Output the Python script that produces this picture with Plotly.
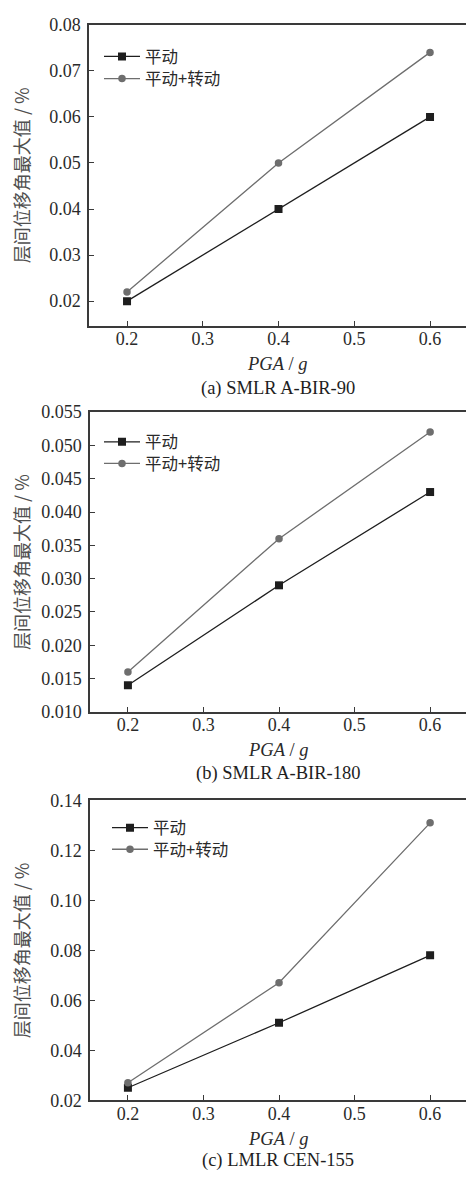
import plotly.graph_objects as go

W, H = 466, 1181

pga = [0.2, 0.4, 0.6]
names = ["平动", "平动+转动"]
a_trans = [0.020, 0.040, 0.060]
a_rot = [0.022, 0.050, 0.074]
b_trans = [0.014, 0.029, 0.043]
b_rot = [0.016, 0.036, 0.052]
c_trans = [0.025, 0.051, 0.078]
c_rot = [0.027, 0.067, 0.131]
captions = ["(a) SMLR A-BIR-90", "(b) SMLR A-BIR-180", "(c) LMLR CEN-155"]
y_ranges = [[0.0147, 0.08], [0.010, 0.055], [0.020, 0.140]]
y_ticks = [
    [0.02, 0.03, 0.04, 0.05, 0.06, 0.07, 0.08],
    [0.010, 0.015, 0.020, 0.025, 0.030, 0.035, 0.040, 0.045, 0.050, 0.055],
    [0.02, 0.04, 0.06, 0.08, 0.10, 0.12, 0.14],
]
y_fmt = [".2f", ".3f", ".2f"]
x_ticks = [0.2, 0.3, 0.4, 0.5, 0.6]
ytitle = "层间位移角最大值 / %"

# pixel geometry (top, bottom, left) per panel
panels = [(15, 321, 89), (409, 714, 90), (804, 1109, 90)]
xtitle_y = [360, 753, 1148]
cap_y = [385, 777, 1170]
legend_rows = [(47.5, 70), (439.5, 461.5), (832, 854)]
legend_x = [99, 99, 107]
ytitle_x = 21

series = [(a_trans, a_rot), (b_trans, b_rot), (c_trans, c_rot)]

BLACK = "#1e1e1e"
GRAY = "#6e6e6e"
AX = "#3a3a3a"
SERIF = "Liberation Serif, Times New Roman, serif"
CJK = "Noto Sans CJK SC, sans-serif"
FS = 18
TFS = 18.5
LFS = 16.5

fig = go.Figure()
annotations = []
legends = {}
for i, ((top, bot, left), (tr, rt)) in enumerate(zip(panels, series)):
    sfx = "" if i == 0 else str(i + 1)
    xa = "x" + sfx
    ya = "y" + sfx
    lg1 = "legend" + ("" if i == 0 else str(2 * i + 1))
    lg2 = "legend" + str(2 * i + 2)
    fig.add_trace(go.Scatter(
        x=pga, y=tr, name=names[0], mode="lines+markers",
        line=dict(color=BLACK, width=1.3),
        marker=dict(symbol="square", size=8, color=BLACK),
        xaxis=xa, yaxis=ya, legend=lg1))
    fig.add_trace(go.Scatter(
        x=pga, y=rt, name=names[1], mode="lines+markers",
        line=dict(color=GRAY, width=1.3),
        marker=dict(symbol="circle", size=7.5, color=GRAY),
        xaxis=xa, yaxis=ya, legend=lg2))

    ydom = [1 - bot / H, 1 - top / H]
    xdom = [left / W, 1.0]
    fig.update_layout(**{
        "xaxis" + sfx: dict(
            domain=xdom, anchor=ya, range=[0.1498, 0.6475],
            tickvals=x_ticks, tickformat=".1f",
            ticks="inside", ticklen=5, tickwidth=1.2, tickcolor=AX,
            showline=True, linecolor=AX, linewidth=1.5, mirror=True,
            showgrid=False, zeroline=False, ticklabelstandoff=-4,
            tickfont=dict(family=SERIF, size=FS, color="#2a2a2a"),
        ),
        "yaxis" + sfx: dict(
            domain=ydom, anchor=xa, range=y_ranges[i],
            tickvals=y_ticks[i], tickformat=y_fmt[i],
            ticks="inside", ticklen=5, tickwidth=1.2, tickcolor=AX,
            showline=True, linecolor=AX, linewidth=1.5, mirror=False,
            showgrid=False, zeroline=False, ticklabelstandoff=3,
            tickfont=dict(family=SERIF, size=FS, color="#2a2a2a"),
        ),
    })
    for lg, ry in ((lg1, legend_rows[i][0]), (lg2, legend_rows[i][1])):
        legends[lg] = dict(
            x=legend_x[i] / W, y=1 - ry / H,
            xanchor="left", yanchor="middle",
            bgcolor="rgba(0,0,0,0)", borderwidth=0,
            font=dict(family=CJK, size=LFS, color="#2a2a2a"),
            tracegroupgap=0, itemwidth=36,
        )
    cx = (left + W) / 2 / W
    annotations.append(dict(
        text=ytitle, x=ytitle_x / W, y=1 - (top + bot) / 2 / H,
        xref="paper", yref="paper", showarrow=False, textangle=-90,
        xanchor="center", yanchor="middle",
        font=dict(family=CJK, size=FS, color="#505050")))
    annotations.append(dict(
        text="<i>PGA</i> / <i>g</i>", x=cx, y=1 - xtitle_y[i] / H,
        xref="paper", yref="paper", showarrow=False,
        xanchor="center", yanchor="middle",
        font=dict(family=SERIF, size=TFS, color="#2a2a2a")))
    annotations.append(dict(
        text=captions[i], x=cx, y=1 - cap_y[i] / H,
        xref="paper", yref="paper", showarrow=False,
        xanchor="center", yanchor="middle",
        font=dict(family=SERIF, size=TFS, color="#1e1e1e")))

fig.update_layout(
    width=W, height=H,
    margin=dict(l=0, r=0, t=0, b=0),
    paper_bgcolor="white", plot_bgcolor="white",
    annotations=annotations,
    showlegend=True,
    **legends,
)

fig.write_html("out.html", config={"displayModeBar": False})
